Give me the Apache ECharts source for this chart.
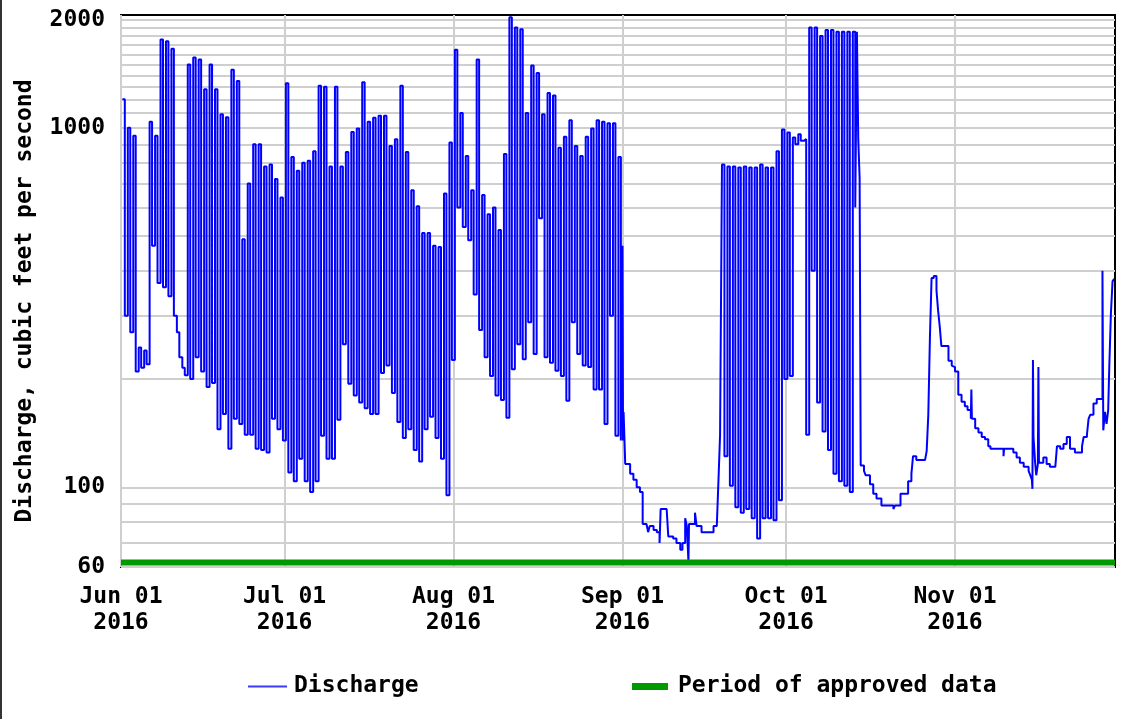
<!DOCTYPE html>
<html><head><meta charset="utf-8">
<script src="https://cdn.jsdelivr.net/npm/echarts@6/dist/echarts.min.js"></script>
<style>html,body{margin:0;padding:0;background:#fff}#c{width:1144px;height:719px}</style>
</head><body><div id="c"></div>
<script>
// ---- tick labels / axis values ----
const monthTicks = ['2016-06-01', '2016-07-01', '2016-08-01', '2016-09-01', '2016-10-01', '2016-11-01'];
const yLabelValues = [60, 100, 1000, 2000];
const yGridValues = [60, 70, 80, 90, 100, 200, 300, 400, 500, 600, 700, 800, 900,
  1000, 1100, 1200, 1300, 1400, 1500, 1600, 1700, 1800, 1900, 2000];
const startDate = '2016-06-01';
const endDayOffset = 182.35;   // plot extends to late Nov 30

// ---- Discharge (cfs): daily peak / trough, Jun 1 (day 0) .. Aug 31 (day 91) ----
const highsJunAug = [1200,1000,950,245,240,1040,950,1760,1740,1660,
  270,215,1500,1570,1550,1280,1500,1280,1090,1070,
  1450,1350,490,700,900,900,780,790,720,640,
  1330,830,760,800,810,860,1310,1300,780,1300,
  780,857,973,995,1340,1040,1066,1080,1080,890,
  930,1310,857,670,605,510,510,470,466,657,
  910,1650,1100,835,670,1550,650,575,600,520,
  845,2030,1900,1880,1100,1490,1420,1090,1250,1230,
  880,945,1050,890,835,945,995,1050,1040,1030,
  1030,830];
const lowsJunAug = [300,270,210,215,220,470,370,360,340,300,
  230,205,200,230,210,190,195,145,160,128,
  155,150,140,140,128,127,125,155,145,135,
  110,104,120,104,97,104,139,120,120,154,
  250,194,180,172,166,160,160,208,218,183,
  152,137,145,127,118,145,157,137,120,95,
  226,600,530,487,344,274,230,204,180,175,
  156,213,250,227,288,235,560,230,222,211,
  204,174,288,235,218,216,187,187,150,300,
  139,135];
// recession, early September: [day offset from Jun 1, cfs]
const sepRecession = [[92.0,470],[92.1,135],[92.2,162],[92.5,116],[93.4,109],[94.0,105],[94.6,100],
  [95.2,97],[95.7,79],[96.4,78],[96.7,75],[97.0,78],[97.7,76],[98.3,75],[98.8,70],[99.0,87],
  [100.1,87],[100.4,73],[101.3,72],[101.9,70],[102.6,67],[103.0,70],[103.5,82],[103.8,78],
  [104.1,62],[104.2,79],[105.3,85],[105.6,78],[106.5,75],[107.7,75],[108.7,78],[109.3,79],
  [109.6,104],[109.9,140]];
// daily peak / trough, Sep 19 (day 110) .. Oct 13 (day 134)
const highsSepOct = [790,780,780,775,780,775,775,790,775,775,860,990,
  970,940,960,930,1900,1900,1800,1870,1870,1850,1850,1850,1850];
const lowsSepOct = [122,101,88,85,87,82,72,82,82,81,92,200,
  204,900,920,140,400,172,143,127,109,104,101,97,600];
// recession and fall events, Oct 14 .. Nov 30
const fallRecord = [[135.0,1850],[135.25,930],[135.5,724],[135.7,115],[136.3,111],[136.6,108],
  [137.4,102],[138.0,96],[138.6,93],[139.5,89],[140.4,89],[141.3,89],[141.7,87],[142.0,89],
  [143.0,96],[143.8,96],[144.4,104],[145.0,109],[145.3,122],[145.9,119],[147.5,119],[147.8,126],
  [148.1,159],[148.4,262],[148.7,382],[149.1,387],[149.6,353],[149.9,310],[150.2,280],[150.5,247],
  [151.1,247],[151.8,225],[152.4,218],[152.7,216],[153.0,210],[153.6,181],[154.2,173],[154.8,168],
  [155.3,164],[155.9,155],[156.0,187],[156.1,155],[156.7,146],[157.3,142],[157.9,138],[158.5,136],
  [159.1,130],[159.5,128],[161.0,128],[161.9,122],[162.0,128],[162.8,128],[163.7,125],[164.3,121],
  [164.9,117],[165.6,114],[166.5,111],[166.8,108],[167.1,105],[167.2,99],[167.3,226],[167.4,138],
  [167.7,117],[167.9,108],[168.2,116],[168.3,216],[168.4,117],[169.2,121],[169.8,116],[170.4,114],
  [171.4,114],[171.7,130],[172.3,128],[172.9,132],[173.5,138],[174.1,128],[175.0,125],[175.6,125],
  [176.3,130],[176.6,138],[177.2,140],[177.5,155],[177.8,159],[178.4,171],[179.0,176],[179.6,178],
  [179.9,176],[180.05,400],[180.2,144],[180.5,162],[180.8,150],[181.1,164],[181.3,216],[181.6,305],
  [181.9,374],[182.2,380]];
// approved-data period bar (drawn along the bottom of the plot)
const approvedLevel = 61.8;

// ---- build ----
const DAY = 86400000;
const T0 = Date.parse(startDate + 'T00:00:00Z');
const t = d => T0 + d * DAY;
const discharge = [];
highsJunAug.forEach((h, i) => { discharge.push([t(i + 0.25), h]); discharge.push([t(i + 0.7), lowsJunAug[i]]); });
sepRecession.forEach(p => discharge.push([t(p[0]), p[1]]));
highsSepOct.forEach((h, i) => { const d = 110 + i; discharge.push([t(d + 0.25), h]); discharge.push([t(d + 0.7), lowsSepOct[i]]); });
fallRecord.forEach(p => discharge.push([t(p[0]), p[1]]));

const MON = ['Jan','Feb','Mar','Apr','May','Jun','Jul','Aug','Sep','Oct','Nov','Dec'];
const FONT = 'DejaVu Sans Mono';
const FS = 23;
const monthTickTimes = monthTicks.map(s => Date.parse(s + 'T00:00:00Z'));

const chart = echarts.init(document.getElementById('c'), null, {renderer: 'canvas'});
chart.setOption({
  animation: false,
  backgroundColor: '#fff',
  textStyle: {fontFamily: FONT},
  grid: {left: 121, right: 29, top: 15, bottom: 152, show: true, borderColor: '#000', borderWidth: 2, backgroundColor: 'transparent'},
  xAxis: {
    type: 'value', min: T0, max: t(endDayOffset), scale: true,
    axisLine: {show: false}, axisTick: {show: false, customValues: monthTickTimes},
    splitLine: {show: true, lineStyle: {color: '#cfcfcf', width: 2}},
    axisLabel: {
      customValues: monthTickTimes, margin: 17, color: '#000', fontFamily: FONT, fontWeight: 'bold', fontSize: FS, lineHeight: 26,
      formatter: v => { const d = new Date(v); return MON[d.getUTCMonth()] + ' ' + String(d.getUTCDate()).padStart(2, '0') + '\n' + d.getUTCFullYear(); }
    }
  },
  yAxis: {
    type: 'log', logBase: 10, min: 60, max: 2060,
    name: 'Discharge, cubic feet per second', nameLocation: 'middle', nameGap: 84,
    nameTextStyle: {color: '#000', fontFamily: FONT, fontWeight: 'bold', fontSize: FS, padding: [0, 20, 0, 0]},
    axisLine: {show: false}, axisTick: {show: false, customValues: yGridValues},
    splitLine: {show: true, lineStyle: {color: '#cfcfcf', width: 2}},
    axisLabel: {customValues: yLabelValues, margin: 16, color: '#000', fontFamily: FONT, fontWeight: 'bold', fontSize: FS,
      formatter: v => String(Math.round(v))}
  },
  legend: [
    {data: ['Discharge'], left: 248, top: 675, padding: 0, itemWidth: 39, itemHeight: 14, icon: 'path://M0,0H40V2H0Z',
      textStyle: {color: '#000', fontFamily: FONT, fontWeight: 'bold', fontSize: FS, padding: [0, 0, 0, 2]}},
    {data: ['Period of approved data'], left: 632, top: 675, padding: 0, itemWidth: 36, itemHeight: 7, icon: 'rect',
      textStyle: {color: '#000', fontFamily: FONT, fontWeight: 'bold', fontSize: FS, padding: [0, 0, 0, 5]}}
  ],
  series: [
    {name: 'Period of approved data', type: 'line', data: [[T0, approvedLevel], [t(endDayOffset), approvedLevel]],
      symbol: 'none', lineStyle: {color: '#009900', width: 6}, itemStyle: {color: '#009900'}, z: 3, silent: true},
    {name: 'Discharge', type: 'line', data: discharge, step: 'end', symbol: 'none', sampling: null,
      lineStyle: {color: '#0000ff', width: 2}, itemStyle: {color: '#3a3aff'}, z: 2, silent: true}
  ],
  graphic: [{type: 'rect', left: 0, top: 0, shape: {width: 2, height: 719}, style: {fill: '#333'}}]
});
</script></body></html>
